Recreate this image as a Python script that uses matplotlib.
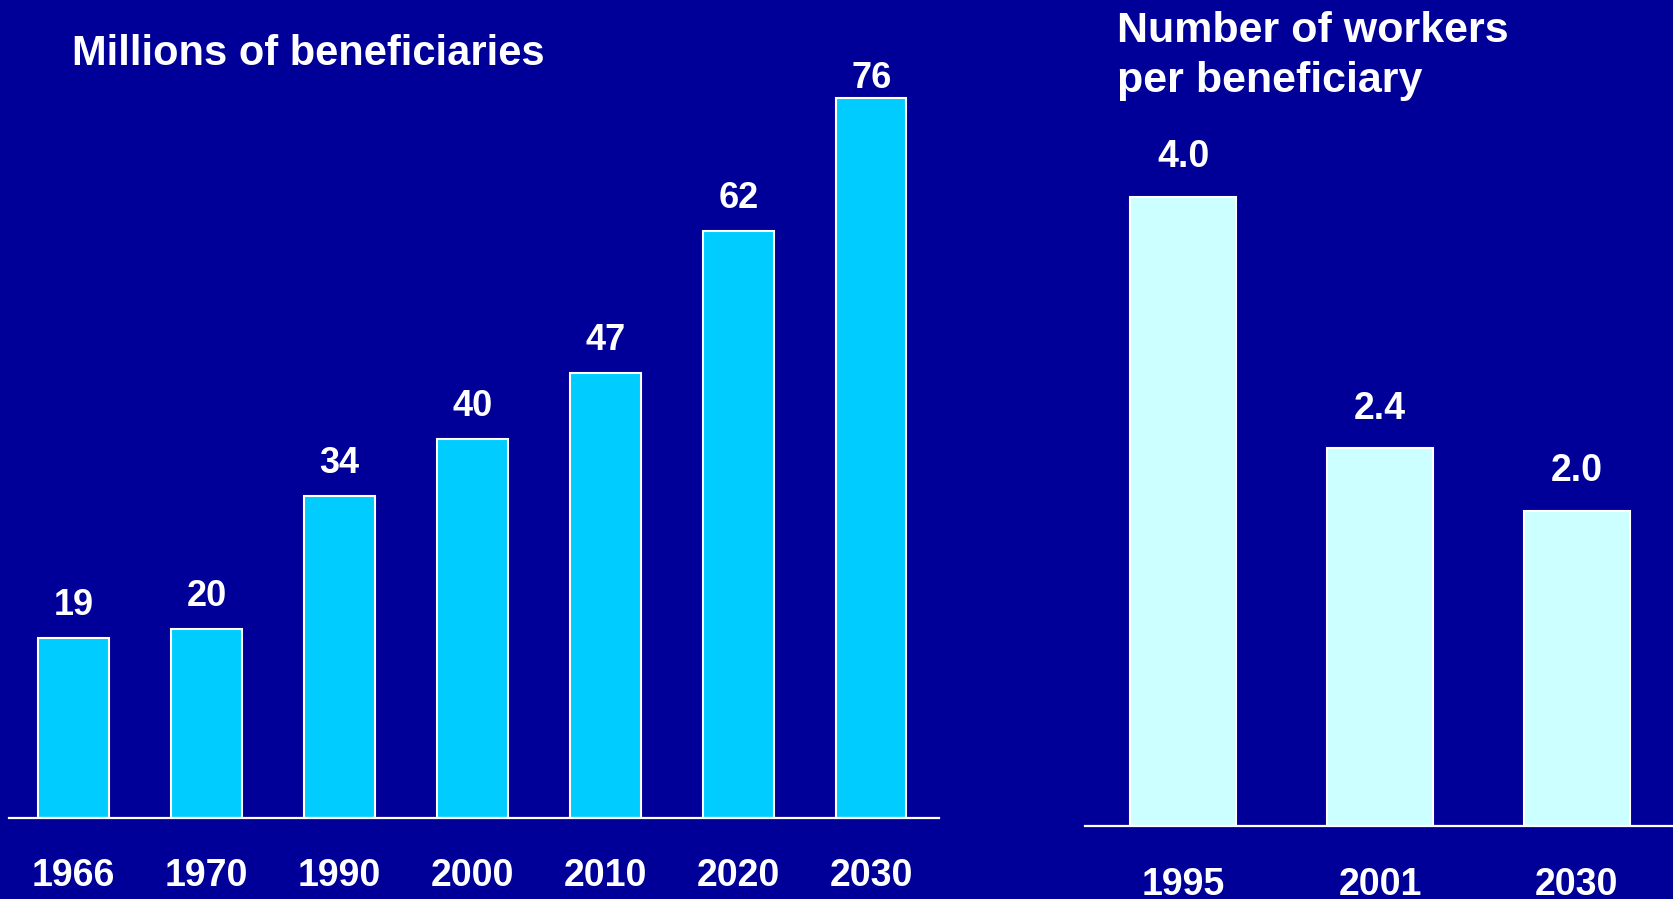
import matplotlib.pyplot as plt

plt.rcParams['font.family'] = ['Liberation Sans', 'DejaVu Sans']

# left panel: millions of beneficiaries
years_left = ['1966', '1970', '1990', '2000', '2010', '2020', '2030']
beneficiaries = [19, 20, 34, 40, 47, 62, 76]

# right panel: workers per beneficiary
years_right = ['1995', '2001', '2030']
workers = [4.0, 2.4, 2.0]

bg = '#000099'
W, H = 1673, 899

fig = plt.figure(figsize=(W / 100, H / 100), dpi=100, facecolor=bg)


def setup(ax):
    ax.set_facecolor(bg)
    for s in ['top', 'left', 'right']:
        ax.spines[s].set_visible(False)
    ax.spines['bottom'].set_color('white')
    ax.spines['bottom'].set_linewidth(1.6)
    ax.set_yticks([])
    ax.tick_params(axis='x', length=0, labelbottom=False)


ax1 = fig.add_axes([8.5 / W, (H - 818) / H, 930.5 / W, 818 / H])
setup(ax1)
x1 = list(range(len(years_left)))
ax1.bar(x1, beneficiaries, width=0.53, color='#00CCFF', edgecolor='white', linewidth=1.5)
ax1.set_xlim(-0.49, 6.51)
ax1.set_ylim(0, 818 / ((818 - 98) / 76))
for i, (x, v, yr) in enumerate(zip(x1, beneficiaries, years_left)):
    # the top label sits closer to its bar (near the top of the slide)
    off = 7 if i == len(x1) - 1 else 16.5
    ax1.annotate(str(v), (x, v), xytext=(0, off), textcoords='offset points',
                 ha='center', va='baseline', color='white', fontsize=26, fontweight='bold')
    ax1.annotate(yr, (x, 0), xytext=(0, -49), textcoords='offset points',
                 ha='center', va='baseline', color='white', fontsize=27, fontweight='bold',
                 annotation_clip=False)

ax2 = fig.add_axes([1085 / W, (H - 825.5) / H, 588 / W, 825.5 / H])
setup(ax2)
x2 = list(range(len(years_right)))
ax2.bar(x2, workers, width=0.54, color='#CCFFFF', edgecolor='white', linewidth=1.5)
ax2.set_xlim(-0.5, 2.49)
ax2.set_ylim(0, 825.5 / ((825.5 - 197) / 4.0))
for x, v, yr in zip(x2, workers, years_right):
    ax2.annotate(f'{v:.1f}', (x, v), xytext=(0, 21.5), textcoords='offset points',
                 ha='center', va='baseline', color='white', fontsize=27, fontweight='bold')
    ax2.annotate(yr, (x, 0), xytext=(0, -50), textcoords='offset points',
                 ha='center', va='baseline', color='white', fontsize=27, fontweight='bold',
                 annotation_clip=False)

fig.text(72 / W, 1 - 65 / H, 'Millions of beneficiaries', color='white',
         fontsize=30, fontweight='bold', va='baseline', ha='left')
fig.text(1117 / W, 1 - 42 / H, 'Number of workers', color='white',
         fontsize=31, fontweight='bold', va='baseline', ha='left')
fig.text(1117 / W, 1 - 92 / H, 'per beneficiary', color='white',
         fontsize=31, fontweight='bold', va='baseline', ha='left')

fig.savefig('out.png', dpi=100, facecolor=bg)
